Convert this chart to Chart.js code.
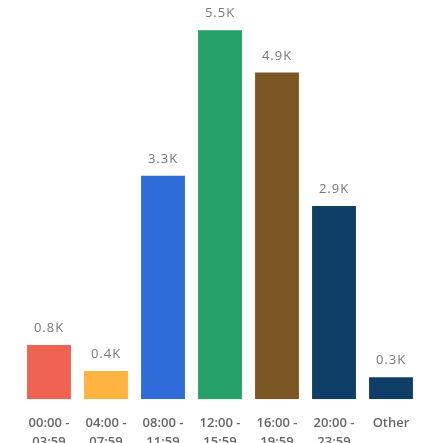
<!DOCTYPE html>
<html>
<head>
<meta charset="utf-8">
<script src="https://cdn.jsdelivr.net/npm/chart.js@4"></script>
<style>
  html, body { margin: 0; padding: 0; background: #fff; overflow: hidden; }
  #wrap { width: 436px; height: 467px; position: relative; }
</style>
</head>
<body>
<div id="wrap"><canvas id="hourChart"></canvas></div>
<script>
// ── datos ──
const timeSlots = [
  ['00:00 -', '03:59'],
  ['04:00 -', '07:59'],
  ['08:00 -', '11:59'],
  ['12:00 -', '15:59'],
  ['16:00 -', '19:59'],
  ['20:00 -', '23:59'],
  'Other',
];
const counts = [810, 420, 3330, 5500, 4870, 2880, 330];
const barColors = ['#EE6352', '#FFB440', '#2E6CD8', '#24A267', '#7B5723', '#0F3F66', '#0F3F66'];

// etiquetas encima de cada barra (0.8K, 5.5K ...)
const valueLabels = {
  id: 'valueLabels',
  afterDatasetsDraw(chart) {
    const ctx = chart.ctx;
    const meta = chart.getDatasetMeta(0);
    ctx.save();
    ctx.font = '13px "Open Sans"';
    ctx.fillStyle = '#777777';
    ctx.textAlign = 'center';
    ctx.textBaseline = 'middle';
    if ('letterSpacing' in ctx) ctx.letterSpacing = '1px';
    meta.data.forEach((bar, i) => {
      const txt = (counts[i] / 1000).toFixed(1) + 'K';
      ctx.fillText(txt, bar.x, bar.y - 16.5);
    });
    ctx.restore();
  }
};

new Chart(document.getElementById('hourChart').getContext('2d'), {
  type: 'bar',
  data: {
    labels: timeSlots,
    datasets: [{
      data: counts,
      backgroundColor: barColors,
      borderWidth: 0,
      categoryPercentage: 1,
      barPercentage: 0.77,
    }],
  },
  options: {
    responsive: true,
    maintainAspectRatio: false,
    animation: false,
    layout: { padding: { left: 20.5, right: 16.5, top: 0, bottom: 0 } },
    plugins: { legend: { display: false }, tooltip: { enabled: false } },
    scales: {
      x: {
        grid: { display: false, drawTicks: false },
        border: { display: false },
        ticks: {
          color: '#666666',
          padding: 15,
          maxRotation: 0,
          autoSkip: false,
          font: { family: 'Open Sans', size: 13, weight: '600', lineHeight: 1.45 },
        },
      },
      y: { display: false, min: 0, max: 5950 },
    },
  },
  plugins: [valueLabels],
});
</script>
</body>
</html>
